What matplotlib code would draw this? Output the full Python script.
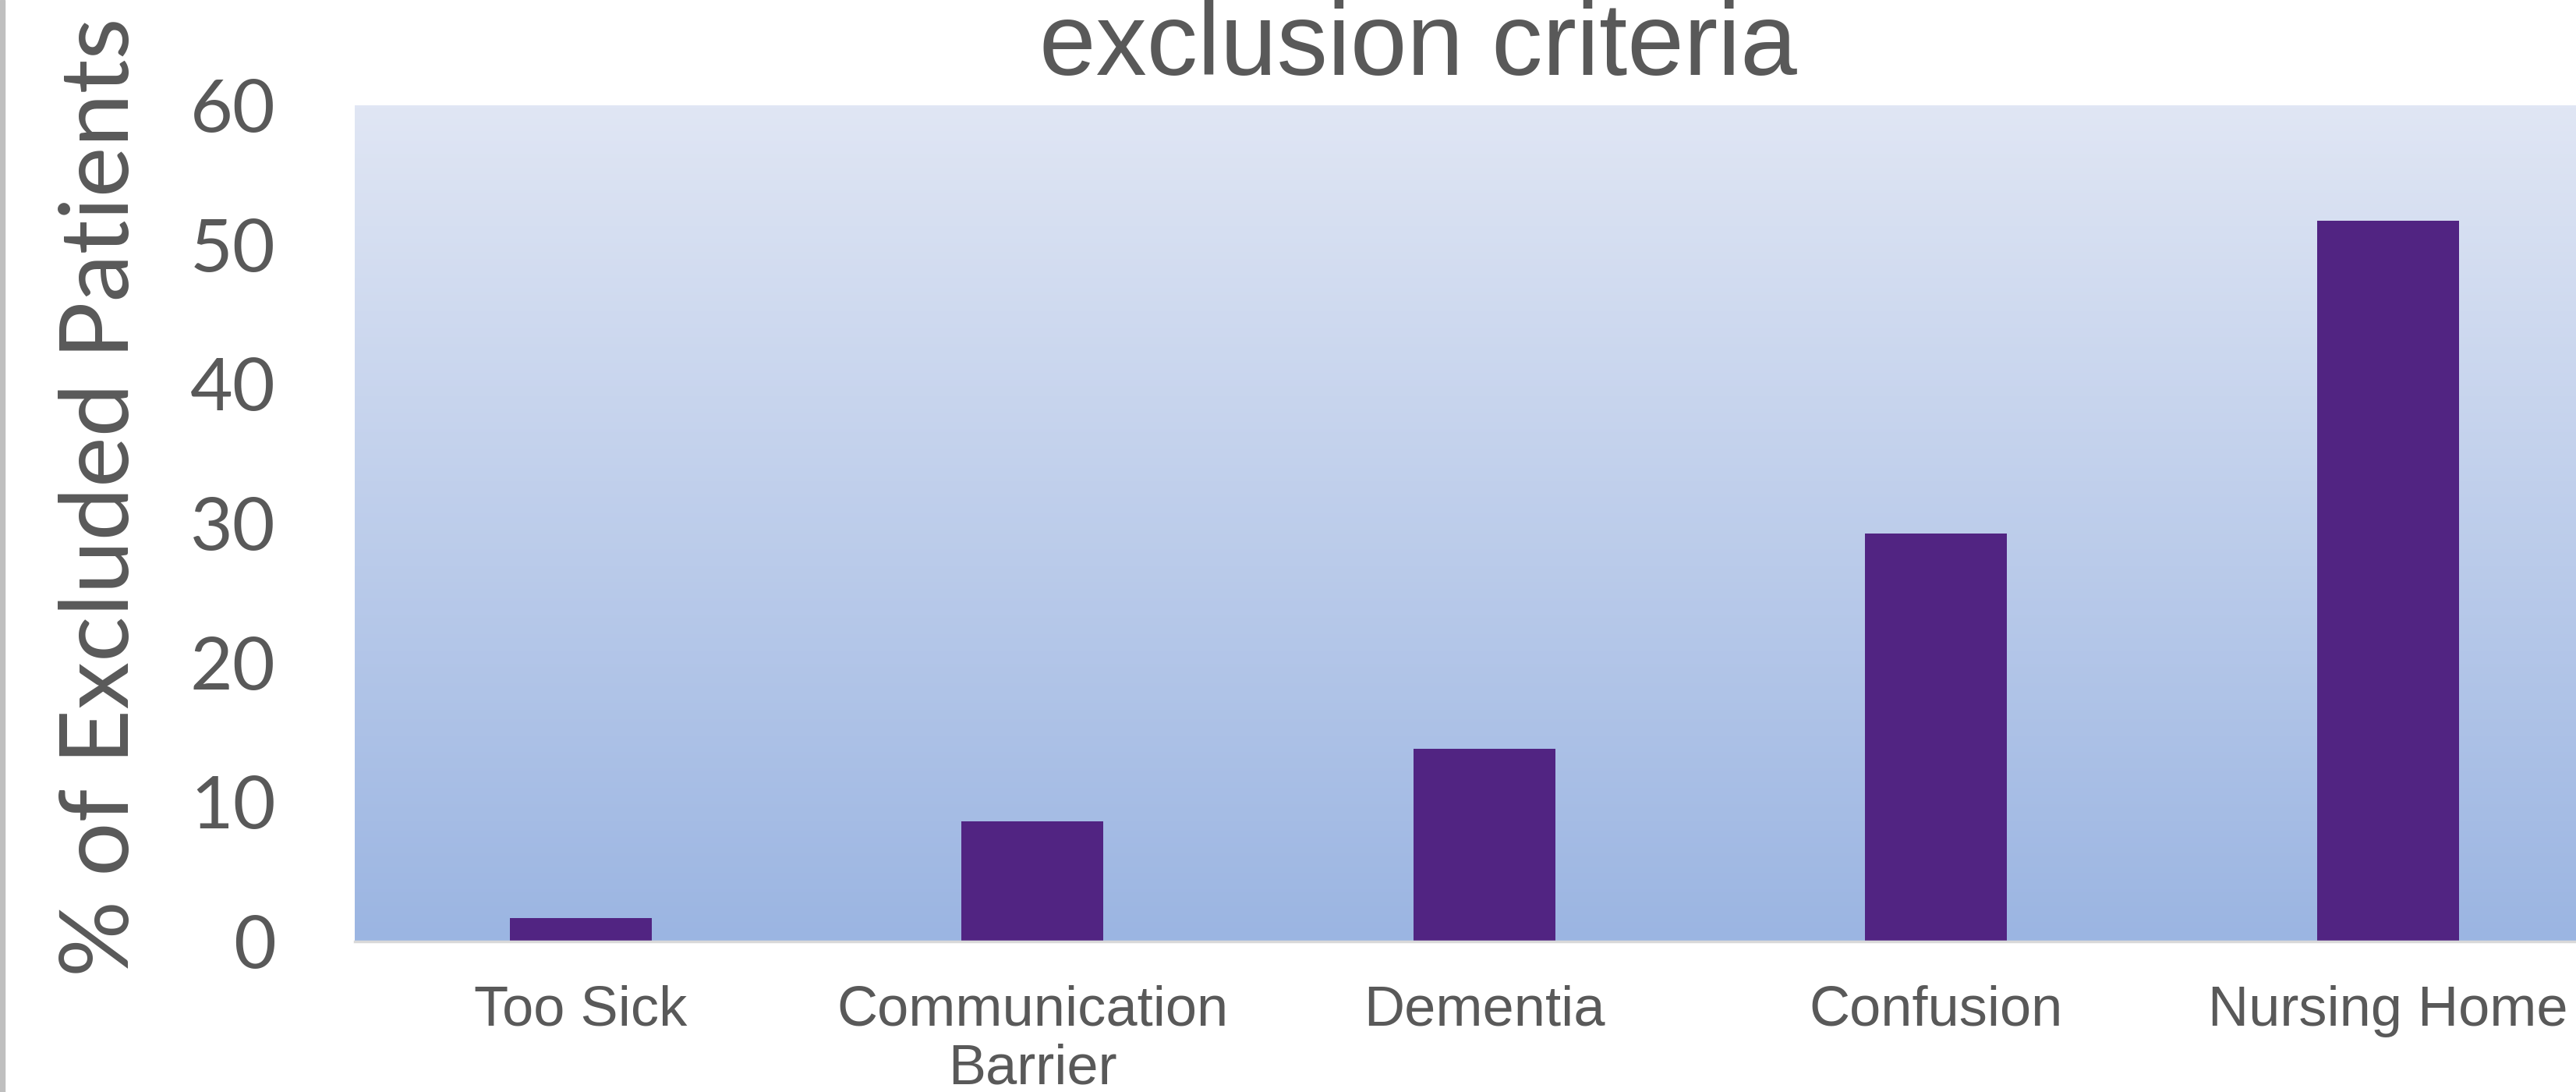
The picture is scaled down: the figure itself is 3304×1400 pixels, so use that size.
import numpy as np
import matplotlib
matplotlib.use('Agg')
import matplotlib.pyplot as plt
from matplotlib.patches import Rectangle

categories = ['Too Sick', 'Communication\nBarrier', 'Dementia', 'Confusion', 'Nursing Home']
pct_excluded = [1.7, 8.6, 13.8, 29.3, 51.7]
y_ticks = [0, 10, 20, 30, 40, 50, 60]

text_color = '#595959'
bar_color = '#512482'

fig = plt.figure(figsize=(33.05, 14), dpi=100)
ax = fig.add_axes([455 / 3305, 1 - 1207 / 1400, 1 - 455 / 3305, (1207 - 135) / 1400])

# vertical gradient background of the plot area
grad = np.linspace(0, 1, 256).reshape(-1, 1)
top = np.array([224, 230, 244]) / 255
bottom = np.array([155, 181, 226]) / 255
img = top + (bottom - top) * grad[:, :, None] * np.ones((1, 1, 3))
ax.imshow(img.reshape(256, 1, 3), extent=[0, 1, 0, 1], transform=ax.transAxes,
          aspect='auto', zorder=0)

x = np.arange(len(categories))
ax.bar(x, pct_excluded, width=0.314, color=bar_color, zorder=2)

ax.set_xlim(-0.5, 4.418)
ax.set_ylim(0, 60)
ax.set_yticks(y_ticks)
ax.set_yticklabels([str(v) for v in y_ticks], fontsize=68, family='Lato', color=text_color)
ax.set_xticks(x)
ax.set_xticklabels(categories, fontsize=52, family='Liberation Sans', color=text_color,
                   linespacing=1.15)
ax.tick_params(axis='y', length=0, pad=73)
ax.tick_params(axis='x', length=0, pad=40)

for side in ['top', 'right', 'left']:
    ax.spines[side].set_visible(False)
ax.spines['bottom'].set_color('#D9D9D9')
ax.spines['bottom'].set_linewidth(2.5)
ax.spines['bottom'].set_zorder(3)

fig.text(1819 / 3305, 1 - 96 / 1400, 'exclusion criteria', fontsize=94,
         family='Liberation Sans', color=text_color, ha='center', va='baseline')

fig.text(165 / 3305, 1 - 637 / 1400, '% of Excluded Patients', fontsize=88,
         family='Lato', color=text_color, rotation=90, rotation_mode='anchor',
         ha='center', va='baseline')

fig.add_artist(Rectangle((0, 0), 6 / 3305, 1, transform=fig.transFigure,
                         color='#BFBFBF', zorder=5))

fig.savefig('out.png', dpi=100)
